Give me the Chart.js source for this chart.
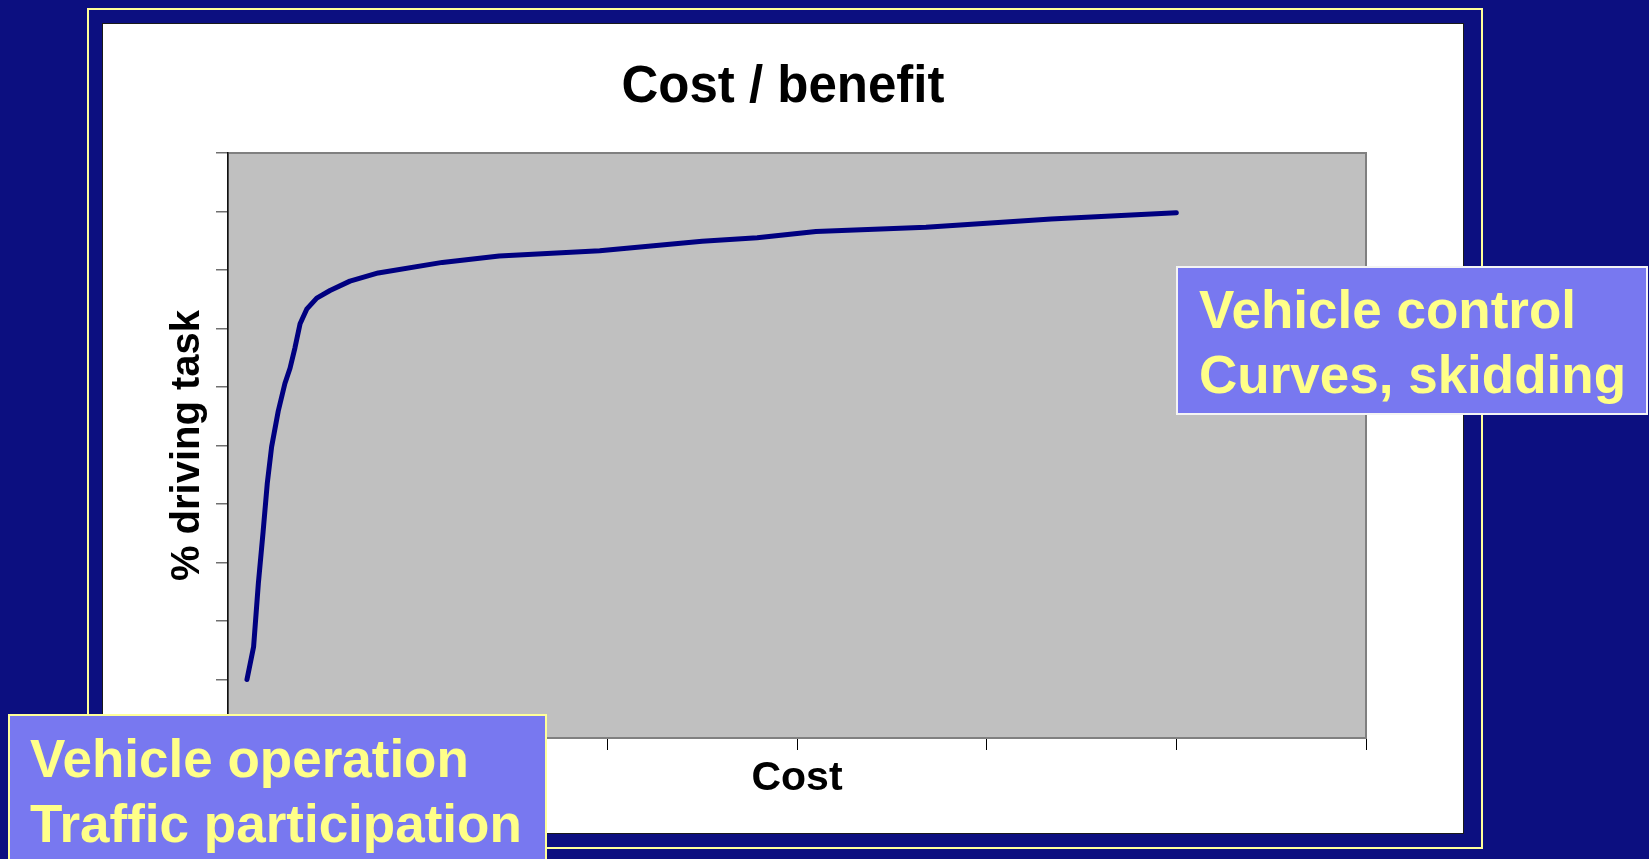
<!DOCTYPE html>
<html>
<head>
<meta charset="utf-8">
<title>Cost / benefit</title>
<script src="https://cdn.jsdelivr.net/npm/chart.js"></script>
<style>
  body {
    margin: 0;
    width: 1649px;
    height: 859px;
    background: #0c0f80;
    overflow: hidden;
    position: relative;
    font-family: "Liberation Sans", Arial, sans-serif;
  }
  .marco {
    position: absolute; left: 87px; top: 8px;
    width: 1396px; height: 841px;
    border: 2px solid #ffff99; box-sizing: border-box;
  }
  .panel {
    position: absolute; left: 102px; top: 23px;
    width: 1362px; height: 811px;
    border: 1px solid #1a1a1a; box-sizing: border-box;
    background: #fff;
  }
  .panel canvas { display: block; }
  .caja {
    position: absolute;
    background: #7878f0;
    color: #ffff88;
    font-weight: bold;
    font-size: 53px;
    line-height: 65px;
    box-sizing: border-box;
    white-space: nowrap;
  }
  #caja1 { left: 1176px; top: 266px; width: 472px; height: 149px; border: 2px solid #f4f4f4; padding: 9px 0 0 21px; }
  #caja2 { left: 8px; top: 714px; width: 539px; height: 160px; border: 2px solid #ffff99; padding: 10px 0 0 20px; }
</style>
</head>
<body>
<div class="marco"></div>
<div class="panel"><canvas id="grafico" width="1360" height="809"></canvas></div>
<div class="caja" id="caja1">Vehicle control<br>Curves, skidding</div>
<div class="caja" id="caja2">Vehicle operation<br>Traffic participation</div>

<script>
// valores (eje X = costo, eje Y = % de la tarea de conduccion)
const costo = [0.10, 0.135, 0.16, 0.185, 0.207, 0.23, 0.265, 0.30, 0.327, 0.353, 0.38, 0.415, 0.468, 0.538, 0.643, 0.792, 1.13, 1.43, 1.96, 2.50, 2.79, 3.10, 3.68, 4.34, 5.00];
const tarea = [1.0, 1.56, 2.64, 3.52, 4.35, 4.98, 5.59, 6.06, 6.32, 6.67, 7.08, 7.33, 7.52, 7.65, 7.81, 7.95, 8.13, 8.24, 8.33, 8.49, 8.55, 8.66, 8.73, 8.87, 8.98];

// marcas de los ejes (sin etiquetas en el original)
const ticksX = [0, 1, 2, 3, 4, 5, 6];
const ticksY = [0, 1, 2, 3, 4, 5, 6, 7, 8, 9, 10];

const fuente = '"Liberation Sans", Arial, sans-serif';

// fondo gris del area de trazado
const fondoGrafico = {
    id: 'fondoGrafico',
    beforeDraw(chart) {
        const { ctx, chartArea: a } = chart;
        ctx.save();
        ctx.fillStyle = '#c0c0c0';
        ctx.fillRect(a.left, a.top, a.width, a.height);
        ctx.strokeStyle = '#808080';
        ctx.lineWidth = 2;
        ctx.strokeRect(a.left, a.top, a.width, a.height);
        ctx.restore();
    }
};

function generarGrafico() {
    const ctx = document.getElementById('grafico').getContext('2d');
    const puntos = costo.map((c, i) => ({ x: c, y: tarea[i] }));

    new Chart(ctx, {
        type: 'scatter',
        data: {
            datasets: [{
                label: '% driving task',
                data: puntos,
                showLine: true,
                borderColor: '#000080',
                borderWidth: 5,
                borderCapStyle: 'round',
                borderJoinStyle: 'round',
                pointRadius: 0,
                tension: 0
            }]
        },
        options: {
            responsive: false,
            animation: false,
            layout: { padding: 0 },
            plugins: {
                legend: { display: false },
                tooltip: { enabled: false },
                title: {
                    display: true,
                    text: 'Cost / benefit',
                    color: '#000',
                    font: { family: fuente, size: 51, weight: 'bold' },
                    padding: { top: 33.4, bottom: 34.4 }
                }
            },
            scales: {
                x: {
                    type: 'linear',
                    min: ticksX[0],
                    max: ticksX[ticksX.length - 1],
                    ticks: { stepSize: 1, display: false },
                    grid: { drawOnChartArea: false, tickLength: 12, color: '#000', lineWidth: 1 },
                    border: { color: '#808080', width: 2 },
                    title: {
                        display: true,
                        text: 'Cost',
                        color: '#000',
                        font: { family: fuente, size: 41, weight: 'bold' },
                        padding: { top: 0, bottom: 29.4 }
                    },
                    afterFit(s) { s.height = 95; }
                },
                y: {
                    type: 'linear',
                    min: ticksY[0],
                    max: ticksY[ticksY.length - 1],
                    ticks: { stepSize: 1, display: false },
                    grid: { drawOnChartArea: false, tickLength: 12, color: '#707070', lineWidth: 1.5 },
                    border: { color: '#111', width: 1.5 },
                    title: {
                        display: true,
                        text: '% driving task',
                        color: '#000',
                        font: { family: fuente, size: 40, weight: 'bold' },
                        padding: { top: 60.5, bottom: 0 }
                    },
                    afterFit(s) { s.width = 125; }
                },
                // eje vacio a la derecha, solo para dejar el margen blanco
                margenDer: {
                    axis: 'y',
                    position: 'right',
                    grid: { display: false },
                    border: { display: false },
                    ticks: { display: false },
                    afterFit(s) { s.width = 97; }
                }
            }
        },
        plugins: [fondoGrafico]
    });
}

document.addEventListener('DOMContentLoaded', generarGrafico);
</script>
</body>
</html>
